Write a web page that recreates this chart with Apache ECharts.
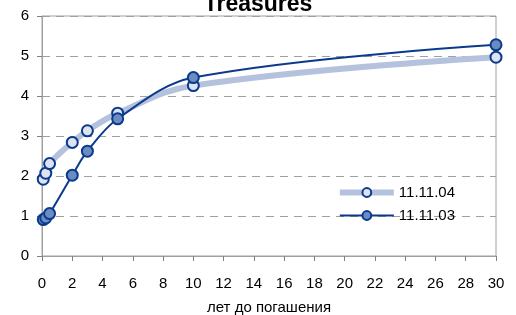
<!DOCTYPE html>
<html>
<head>
<meta charset="utf-8">
<script src="https://cdn.jsdelivr.net/npm/echarts@6/dist/echarts.min.js"></script>
<style>
  html, body { margin: 0; padding: 0; background: #fff; }
  #chart { width: 516px; height: 315px; }
</style>
</head>
<body>
<div id="chart"></div>
<script>
// maturities (years) and yields
const maturities = [0.083, 0.25, 0.5, 2, 3, 5, 10, 30];
const yields04 = [1.92, 2.07, 2.31, 2.84, 3.13, 3.57, 4.26, 4.97];
const yields03 = [0.91, 0.95, 1.06, 2.02, 2.62, 3.43, 4.46, 5.28];
const seriesNames = ['11.11.04', '11.11.03'];

const chart = echarts.init(document.getElementById('chart'));

const pairs = (ys) => maturities.map((m, i) => [m, ys[i]]);

const option = {
    animation: false,
    title: {
        text: 'Treasures',
        left: 'center',
        top: -12,
        textStyle: { fontFamily: 'Liberation Sans', fontSize: 23, fontWeight: 'bold', color: '#000' }
    },
    grid: {
        left: 42, right: 20, top: 16, bottom: 59,
        outerBoundsMode: 'none',
        show: true, borderColor: '#a0a0a0', borderWidth: 1
    },
    legend: {
        right: 56, top: 180,
        orient: 'vertical',
        itemWidth: 54, itemHeight: 11, itemGap: 8,
        lineStyle: { width: 'inherit' },
        textStyle: { fontFamily: 'Liberation Sans', fontSize: 15, color: '#000' },
        data: seriesNames
    },
    xAxis: {
        type: 'value', min: 0, max: 30, interval: 2,
        name: 'лет до погашения', nameLocation: 'middle', nameGap: 44,
        nameTextStyle: { fontFamily: 'Liberation Sans', fontSize: 15, color: '#000' },
        axisLine: { lineStyle: { color: '#a0a0a0' } },
        axisTick: { show: true, length: 5, lineStyle: { color: '#808080' } },
        axisLabel: { fontFamily: 'Liberation Sans', fontSize: 15, color: '#000', margin: 20 },
        splitLine: { show: false }
    },
    yAxis: {
        type: 'value', min: 0, max: 6, interval: 1,
        axisLine: { show: true, lineStyle: { color: '#a0a0a0' } },
        axisTick: { show: true, length: 5, lineStyle: { color: '#808080' } },
        axisLabel: { fontFamily: 'Liberation Sans', fontSize: 15, color: '#000', margin: 13 },
        splitLine: { lineStyle: { color: '#a0a0a0', type: [8, 6] } }
    },
    series: [
        {
            name: seriesNames[0], type: 'line', smooth: 0.4,
            data: pairs(yields04),
            lineStyle: { color: '#b4c2dd', width: 6 },
            symbol: 'circle', symbolSize: 11,
            itemStyle: { color: '#dde3f0', borderColor: '#0b3a8c', borderWidth: 2 },
            z: 2
        },
        {
            name: seriesNames[1], type: 'line', smooth: 0.35,
            data: pairs(yields03),
            lineStyle: { color: '#0b3a8c', width: 2 },
            symbol: 'circle', symbolSize: 11,
            itemStyle: { color: '#6a8cc1', borderColor: '#0b3a8c', borderWidth: 2 },
            z: 3
        }
    ]
};

chart.setOption(option);
</script>
</body>
</html>
